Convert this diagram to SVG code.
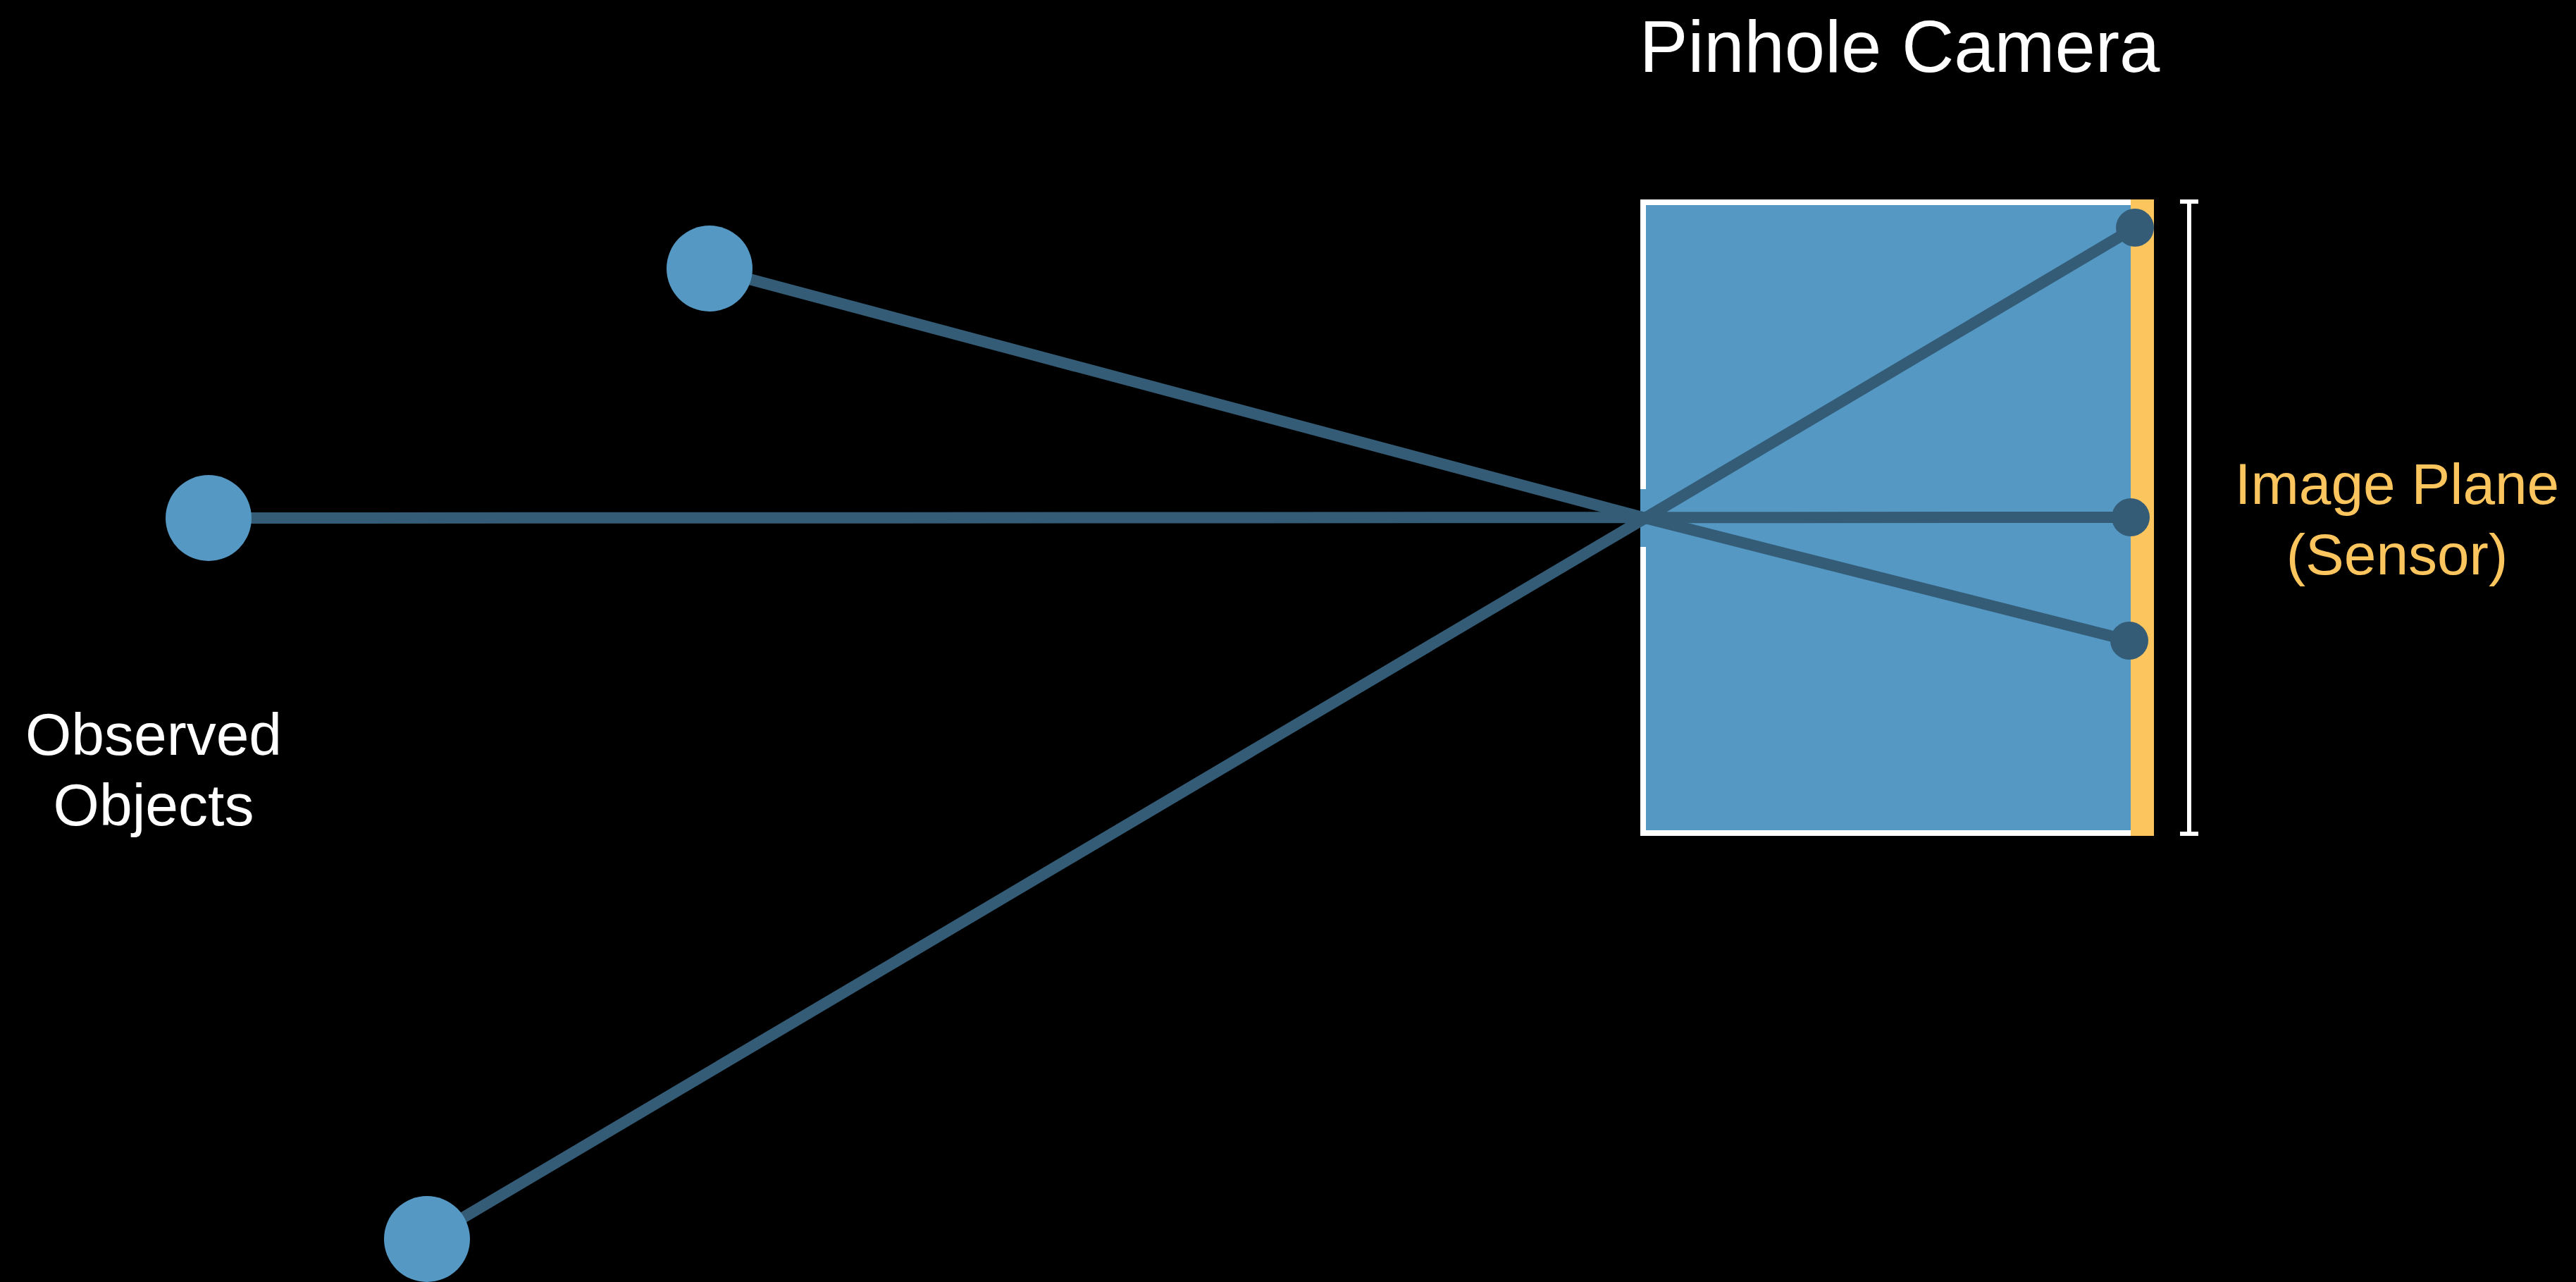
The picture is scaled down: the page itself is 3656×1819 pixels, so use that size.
<svg xmlns="http://www.w3.org/2000/svg" width="3656" height="1819" viewBox="0 0 3656 1819">
<style>
.obj{fill:#5498c3}
.dot{fill:#345c77}
.ray{fill:none;stroke:#345c77;stroke-width:16;stroke-linejoin:round}
.lbl{font-family:"Liberation Sans",Arial,sans-serif;text-anchor:middle}
</style>
<rect width="3656" height="1819" fill="#000"/>
<g id="camera">
<rect x="2328" y="283" width="696" height="903" fill="#5498c3"/>
<path d="M2328 287H3024M2328 1182H3024M2332 283V694M2332 776V1186" stroke="#fff" stroke-width="8" fill="none"/>
<rect id="sensor" x="3024" y="283" width="33" height="903" fill="#fdc55d"/>
</g>
<g id="bracket" stroke="#fff" stroke-width="6" fill="none">
<path d="M3107 283V1186M3094 286H3120M3094 1183H3120"/>
</g>
<g id="connectors">
<polyline class="ray" points="1007,381 2335,735 3022,909"/>
<polyline class="ray" points="296,735 3024,734"/>
<polyline class="ray" points="606,1758 2335,735 3030,323"/>
</g>
<g id="obj1"><circle class="obj" cx="1007" cy="381" r="61"/></g>
<g id="obj2"><circle class="obj" cx="296" cy="735" r="61"/></g>
<g id="obj3"><circle class="obj" cx="606" cy="1758" r="61"/></g>
<g id="img1"><circle class="dot" cx="3030" cy="323" r="27"/></g>
<g id="img2"><circle class="dot" cx="3024" cy="734" r="27"/></g>
<g id="img3"><circle class="dot" cx="3022" cy="909" r="27"/></g>
<g id="title"><text class="lbl" x="2696" y="102" font-size="103" fill="#fff">Pinhole Camera</text></g>
<g id="sensor-label" fill="#fdc55d">
<text class="lbl" x="3402" y="715" font-size="82">Image Plane</text>
<text class="lbl" x="3402" y="815" font-size="82">(Sensor)</text>
</g>
<g id="objects-label" fill="#fff">
<text class="lbl" x="218" y="1071" font-size="84">Observed</text>
<text class="lbl" x="218" y="1171" font-size="84">Objects</text>
</g>
</svg>
